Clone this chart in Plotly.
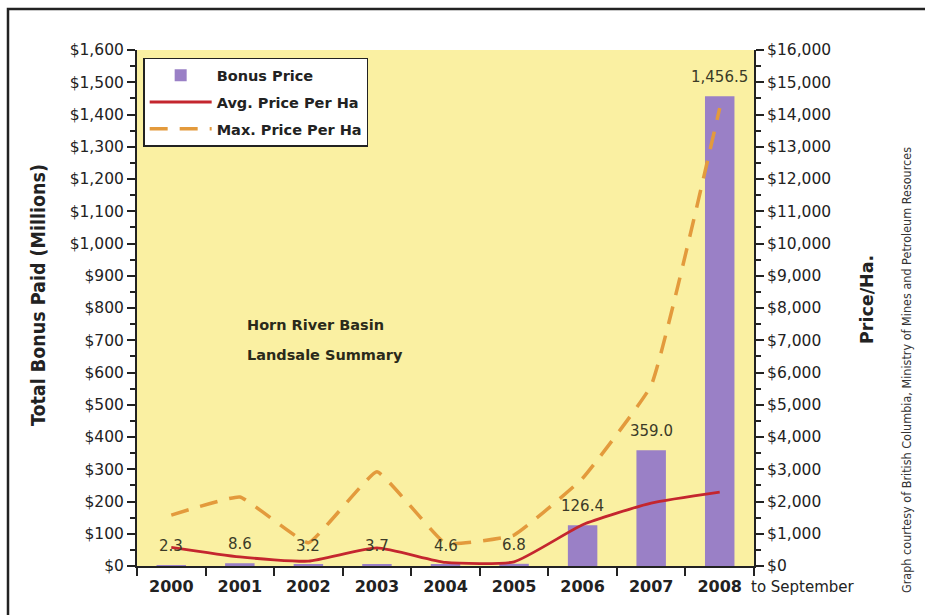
import plotly.graph_objects as go

years = ["2000", "2001", "2002", "2003", "2004", "2005", "2006", "2007", "2008"]
bonus_millions = [2.3, 8.6, 3.2, 3.7, 4.6, 6.8, 126.4, 359.0, 1456.5]
avg_price_ha = [580, 280, 150, 560, 110, 130, 1280, 1950, 2290]
max_price_ha = [1580, 2140, 720, 2920, 700, 960, 2720, 5600, 14200]

W, H = 925, 615
L, R, T, B = 137, 754, 50, 566

SANS = "DejaVu Sans"
COND = "DejaVu Sans Condensed"
DARK = "#222222"

fig = go.Figure()

fig.add_trace(go.Bar(
    x=years, y=bonus_millions, name="Bonus Price", legendgroup="a",
    marker=dict(color="#9A80C6", line=dict(width=0)),
    width=0.43, yaxis="y",
))
fig.add_trace(go.Scatter(
    x=years, y=avg_price_ha, name="Avg. Price Per Ha", yaxis="y2", legendgroup="b",
    mode="lines", line=dict(color="#C4262E", width=2.8, shape="spline", smoothing=0.5),
))
fig.add_trace(go.Scatter(
    x=years, y=max_price_ha, name="Max. Price Per Ha", yaxis="y2", legendgroup="c",
    mode="lines", line=dict(color="#E39A3C", width=3.5, dash="18px,12px", shape="spline", smoothing=0.3),
))

annotations = []
for i, v in enumerate(bonus_millions):
    annotations.append(dict(
        x=i, y=v, xref="x", yref="y", text=f"{v:,.1f}", showarrow=False,
        yanchor="bottom", yshift=8, font=dict(family=SANS, size=15, color="#3b3b28"),
    ))

def px(x):
    return (x - L) / (R - L)

def py(y):
    return (B - y) / (B - T)

annotations += [
    dict(x=px(245), y=py(325), xref="paper", yref="paper",
         text="<b>Horn River Basin</b>", showarrow=False, xanchor="left", yanchor="middle",
         font=dict(family=SANS, size=14.5, color="#2a2a1a")),
    dict(x=px(245), y=py(355), xref="paper", yref="paper",
         text="<b>Landsale Summary</b>", showarrow=False, xanchor="left", yanchor="middle",
         font=dict(family=SANS, size=14.5, color="#2a2a1a")),
    dict(x=px(38), y=py(295), xref="paper", yref="paper",
         text="<b>Total Bonus Paid (Millions)</b>", showarrow=False, textangle=-90,
         xanchor="center", yanchor="middle",
         font=dict(family=COND, size=19.5, color=DARK)),
    dict(x=px(867), y=py(300), xref="paper", yref="paper",
         text="<b>Price/Ha.</b>", showarrow=False, textangle=-90,
         xanchor="center", yanchor="middle",
         font=dict(family=SANS, size=17.5, color=DARK)),
    dict(x=px(749), y=py(587), xref="paper", yref="paper",
         text="to September", showarrow=False, xanchor="left", yanchor="middle",
         font=dict(family=SANS, size=15, color=DARK)),
    dict(x=px(906), y=py(370), xref="paper", yref="paper",
         text="Graph courtesy of British Columbia, Ministry of Mines and Petroleum Resources",
         showarrow=False, textangle=-90, xanchor="center", yanchor="middle",
         font=dict(family=COND, size=12.5, color="#333333")),
]

shapes = [
    dict(type="rect", xref="paper", yref="paper",
         x0=px(8), x1=px(1000), y0=py(700), y1=py(9),
         line=dict(color=DARK, width=2.5), fillcolor="rgba(0,0,0,0)", layer="below"),
]

fig.update_layout(
    width=W, height=H,
    margin=dict(l=L, r=W - R, t=T, b=H - B, pad=0),
    paper_bgcolor="white", plot_bgcolor="#FAF0A2",
    font=dict(family=SANS, size=15, color=DARK),
    showlegend=True,
    legend=dict(
        x=0.01, y=0.985, xanchor="left", yanchor="top",
        bgcolor="white", bordercolor=DARK, borderwidth=1.5,
        font=dict(family=SANS, size=14.5, color=DARK, weight="bold"),
        itemwidth=62, tracegroupgap=5,
    ),
    xaxis=dict(
        type="category", range=[-0.5, 8.5], tickson="boundaries",
        ticks="outside", ticklen=8, tickwidth=1.5, tickcolor=DARK,
        showline=True, linecolor=DARK, linewidth=2, showgrid=False,
        ticklabelstandoff=5,
        tickfont=dict(family=SANS, size=16, color=DARK, weight="bold"),
    ),
    yaxis=dict(
        range=[0, 1600], dtick=100, tickprefix="$", tickformat=",",
        ticks="outside", ticklen=8, tickwidth=1.5, tickcolor=DARK,
        minor=dict(dtick=50, ticks="outside", ticklen=5, tickcolor=DARK),
        showline=True, linecolor=DARK, linewidth=2, showgrid=False, zeroline=False,
        tickfont=dict(family=SANS, size=15.5, color=DARK),
    ),
    yaxis2=dict(
        range=[0, 16000], dtick=1000, tickprefix="$", tickformat=",",
        overlaying="y", side="right",
        ticks="outside", ticklen=8, tickwidth=1.5, tickcolor=DARK,
        minor=dict(dtick=500, ticks="outside", ticklen=5, tickcolor=DARK),
        showline=True, linecolor=DARK, linewidth=2, showgrid=False, zeroline=False,
        tickfont=dict(family=SANS, size=15.5, color=DARK),
    ),
    annotations=annotations,
    shapes=shapes,
)

fig.write_html("out.html")
